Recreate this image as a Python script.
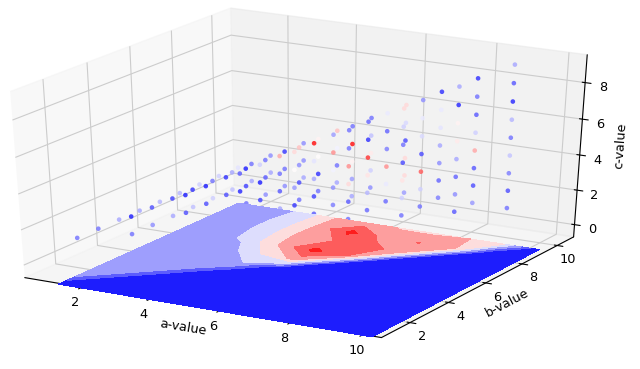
import numpy as np, matplotlib
matplotlib.use('Agg')
import matplotlib.pyplot as plt, seaborn as sns
from mpl_toolkits.mplot3d import Axes3D
sns.set_style('white')
plt.rcParams['font.family']=['DejaVu Sans']
plt.rcParams.update({'text.color':'black','axes.labelcolor':'black','xtick.color':'black','ytick.color':'black','axes.edgecolor':'black'})
grid_a=list(range(1,11)); grid_b=list(range(1,11))
# contour surface: rows b=1..10, columns a=1..10
Z=np.array([
[0,0,0,0,0,0,0,0,0,0],
[2.5,0,0,0,0,0,0,0,0,0],
[2.5,2.5,0,0,0,0,0,0,0,0],
[2.5,2.5,2.5,0,0,0,0,0,0,0],
[2.5,2.5,2.5,2.9,0,0,0,0,0,0],
[2.5,2.5,2.5,4,5.3,0,0,0,0,0],
[2.5,2.5,3.2,5.1,7.3,6,0,0,0,0],
[2.5,2.5,3.4,5.3,6,6.5,5.5,0,0,0],
[2.5,2.5,3.4,5.2,7.3,5.6,6.03,5.4,0,0],
[2.5,2.5,3.2,5,5.4,4.9,4.8,5,4,0]],float)
levels=list(range(9))
# point score per a -> per b (from a+1) -> per c (from 1)
scores={
1:[[.2],[.2],[.3],[.3],[.33],[.33],[.38],[.38],[.42]],
2:[[.2,.03],[.25,.13],[.3,.1],[.35,.07],[.38,.2],[.35,.3],[.3,.2],[.3,.25]],
3:[[.3,.13,.03],[.3,.13,.03],[.25,.13,.07],[.2,.1,.03],[.25,.15,.2],[.25,.2,.08],[.3,.25,.25]],
4:[[.3,.02,.05,.15],[.25,.1,.03,.38],[.3,.15,.2,.65],[.2,.12,.25,.6],[.2,.07,.48,.5],[.3,.2,.45,.6]],
5:[[.15,.08,.27,.48,.55],[.15,.1,.3,.42,.95],[.22,.25,.45,.7,.28],[.3,.28,.5,.95,.2],[.25,.38,.52,.35,.2]],
6:[[.2,.15,.55,.7,.2,.2],[.18,.33,.53,.88,.07,.17],[.18,.43,.7,.22,.17,.43],[.28,.55,.55,.12,.4,.55]],
7:[[.2,.38,.53,.12,.2,.38,.55],[.2,.38,.8,.12,.4,.43,.25],[.22,.17,.25,.3,.42,.43,.07]],
8:[[.15,.25,.17,.3,.52,.5,.05,.3],[.27,.13,.15,.65,.38,.15,.2,.07]],
9:[[.2,.13,.22,.36,.2,.33,.05,.15,.3]],
}
A=[];B=[];C=[];V=[]
for a,rows in scores.items():
    for i,row in enumerate(rows):
        for j,v in enumerate(row):
            A.append(a);B.append(a+1+i);C.append(j+1);V.append(v)
fig=plt.figure(figsize=(6.4,3.69),dpi=100)
ax=fig.add_axes([-.137,0,1.19,1.065],projection='3d')
ax.apply_aspect=lambda position=None:None
ax.set_box_aspect((1,1,1),zoom=0.909)
ax.view_init(30,-60)
X,Y=np.meshgrid(grid_a,grid_b)
cm=plt.get_cmap('bwr');pane=np.array([.95,.95,.95])
cols=[tuple(.88*np.array(cm(i/7)[:3])+.12*pane) for i in range(8)]
ax.contourf(X,Y,Z,levels=levels,zdir='z',offset=-1.12,colors=cols)
ax.scatter(A,B,C,c=V,cmap='bwr',vmin=-.05,vmax=1,s=11,alpha=.85,depthshade=False,linewidths=0)
ax.set_xlim(0.3,10.5);ax.set_ylim(0.55,10.95);ax.set_zlim(-0.72,9.5)
ax.set_xticks([2,4,6,8,10]);ax.set_yticks([2,4,6,8,10]);ax.set_zticks([0,2,4,6,8])
ax.set_xlabel('a-value',labelpad=-5,fontsize=9.2);ax.set_ylabel('b-value',labelpad=-5,fontsize=9.2);ax.set_zlabel('c-value',labelpad=-5,fontsize=9.2)
ax.tick_params(labelsize=9.3,pad=-1)
fig.savefig('out.png',dpi=100)
